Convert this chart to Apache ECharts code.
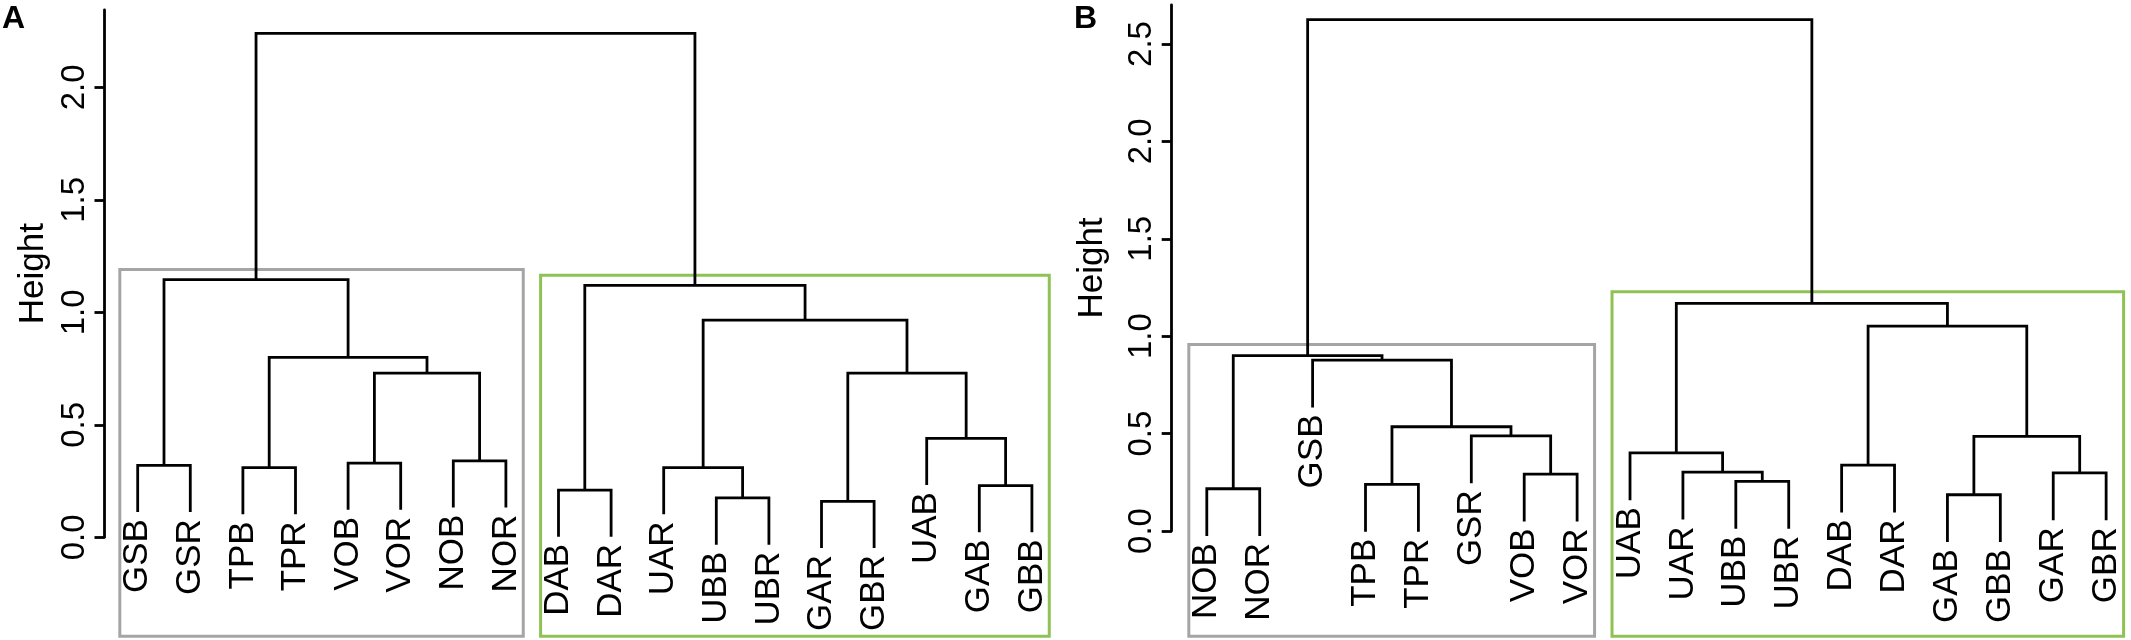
<!DOCTYPE html>
<html>
<head>
<meta charset="utf-8">
<title>Dendrograms A / B</title>
<script src="https://cdn.jsdelivr.net/npm/echarts@6/dist/echarts.min.js"></script>
<style>
  html, body { margin: 0; padding: 0; background: #fff; }
  #chart { width: 2131px; height: 640px; }
</style>
</head>
<body>
<div id="chart"></div>
<script>
// panel A: leaf order, merges (R style: negative = leaf, positive = earlier row), merge heights
const leavesA = ['GSB', 'GSR', 'TPB', 'TPR', 'VOB', 'VOR', 'NOB', 'NOR', 'DAB', 'DAR',
  'UAR', 'UBB', 'UBR', 'GAR', 'GBR', 'UAB', 'GAB', 'GBB'];
const mergeA = [[-1, -2], [-3, -4], [-5, -6], [-7, -8], [3, 4], [2, 5], [1, 6],
  [-9, -10], [-12, -13], [-11, 9], [-14, -15], [-17, -18], [-16, 12], [11, 13], [10, 14], [8, 15], [7, 16]];
const heightsA = [0.32, 0.31, 0.33, 0.34, 0.73, 0.80, 1.145,
  0.21, 0.175, 0.31, 0.16, 0.23, 0.44, 0.73, 0.965, 1.12, 2.24];
const clusterSizesA = [8, 10];
const boxTopsA = [1.19, 1.165];
const ticksA = [0, 0.5, 1, 1.5, 2];

// panel B
const leavesB = ['NOB', 'NOR', 'GSB', 'TPB', 'TPR', 'GSR', 'VOB', 'VOR', 'UAB', 'UAR',
  'UBB', 'UBR', 'DAB', 'DAR', 'GAB', 'GBB', 'GAR', 'GBR'];
const mergeB = [[-1, -2], [-4, -5], [-7, -8], [-6, 3], [2, 4], [-3, 5], [1, 6],
  [-11, -12], [-10, 8], [-9, 9], [-13, -14], [-15, -16], [-17, -18], [12, 13], [11, 14], [10, 15], [7, 16]];
const heightsB = [0.217, 0.239, 0.292, 0.488, 0.535, 0.877, 0.90,
  0.255, 0.302, 0.401, 0.338, 0.186, 0.298, 0.486, 1.052, 1.168, 2.625];
const clusterSizesB = [8, 10];
const boxTopsB = [0.957, 1.228];
const ticksB = [0, 0.5, 1, 1.5, 2, 2.5];

const boxColors = ['#a5a5a5', '#8ec255'];
const FONT = 'Liberation Sans, Arial, Helvetica, sans-serif';

// turn merge table into U-shaped links and leaf end points
function buildTree(leaves, merge, heights, hang) {
  const nodeX = [];
  const links = [];
  const leafEnds = [];
  merge.forEach((pair, i) => {
    const h = heights[i];
    const ends = pair.map(ref => {
      if (ref < 0) {
        const x = -ref;
        leafEnds[x - 1] = [x, h - hang];
        return [x, h - hang];
      }
      return [nodeX[ref - 1], heights[ref - 1]];
    });
    nodeX[i] = (ends[0][0] + ends[1][0]) / 2;
    // [xLeft, xRight, height, leftTop, rightTop]
    links.push([ends[0][0], ends[1][0], h, ends[0][1], ends[1][1]]);
  });
  return { links, leafEnds };
}

// rect.hclust style boxes around the clusters
function buildBoxes(sizes, tops, bottom) {
  let start = 0;
  return sizes.map((n, i) => {
    const box = [start + 0.66, start + n + 0.33, tops[i], bottom];
    start += n;
    return box;
  });
}

const treeA = buildTree(leavesA, mergeA, heightsA, 0.208);
const treeB = buildTree(leavesB, mergeB, heightsB, 0.243);
const boxesA = buildBoxes(clusterSizesA, boxTopsA, -0.44);
const boxesB = buildBoxes(clusterSizesB, boxTopsB, -0.54);

function renderLink(params, api) {
  const pts = [
    api.coord([api.value(0), api.value(3)]),
    api.coord([api.value(0), api.value(2)]),
    api.coord([api.value(1), api.value(2)]),
    api.coord([api.value(1), api.value(4)])
  ];
  return {
    type: 'polyline',
    shape: { points: pts },
    style: { stroke: '#000', lineWidth: 2.8, fill: null, lineJoin: 'miter', lineCap: 'butt' }
  };
}

function labelRenderer(leaves) {
  return function (params, api) {
    const p = api.coord([api.value(0), api.value(1)]);
    return {
      type: 'text',
      x: p[0],
      y: p[1] + 7,
      rotation: Math.PI / 2,
      style: {
        text: leaves[params.dataIndex],
        fontSize: 35,
        fontFamily: FONT,
        fill: '#000',
        align: 'right',
        verticalAlign: 'middle'
      }
    };
  };
}

function renderBox(params, api) {
  const tl = api.coord([api.value(0), api.value(2)]);
  const br = api.coord([api.value(1), api.value(3)]);
  return {
    type: 'rect',
    shape: { x: tl[0], y: tl[1], width: br[0] - tl[0], height: br[1] - tl[1] },
    style: { stroke: boxColors[params.dataIndex], lineWidth: 3, fill: null }
  };
}

function yAxisFor(gridIndex, max, ticks, nameGap) {
  return {
    gridIndex: gridIndex,
    type: 'value',
    min: 0,
    max: max,
    name: 'Height',
    nameLocation: 'middle',
    nameRotate: 90,
    nameGap: nameGap,
    nameTextStyle: { fontSize: 35, fontFamily: FONT, color: '#000' },
    axisLine: { show: true, lineStyle: { color: '#000', width: 2.8 } },
    axisTick: { show: true, length: 10, customValues: ticks, lineStyle: { color: '#000', width: 2.8 } },
    axisLabel: {
      customValues: ticks,
      rotate: 90,
      margin: 13,
      fontSize: 33,
      fontFamily: FONT,
      color: '#000',
      formatter: v => v.toFixed(1)
    },
    splitLine: { show: false }
  };
}

const chart = echarts.init(document.getElementById('chart'), null, { renderer: 'canvas' });

const option = {
  backgroundColor: '#fff',
  animation: false,
  grid: [
    { left: 104.5, top: 10, width: 1000, height: 527.3 },
    { left: 1171.7, top: 5, width: 959.3, height: 526 }
  ],
  xAxis: [
    { gridIndex: 0, type: 'value', min: 0.369, max: 19.38, show: false },
    { gridIndex: 1, type: 'value', min: 0.3365, max: 18.47, show: false }
  ],
  yAxis: [
    yAxisFor(0, 2.344, ticksA, 54),
    yAxisFor(1, 2.70, ticksB, 62)
  ],
  graphic: [
    { type: 'text', left: 2, top: 3, style: { text: 'A', fontSize: 32, fontWeight: 'bold', fontFamily: FONT, fill: '#000' } },
    { type: 'text', left: 1074, top: 3, style: { text: 'B', fontSize: 32, fontWeight: 'bold', fontFamily: FONT, fill: '#000' } }
  ],
  series: [
    { type: 'custom', name: 'boxesA', xAxisIndex: 0, yAxisIndex: 0, renderItem: renderBox, data: boxesA, silent: true },
    { type: 'custom', name: 'treeA', xAxisIndex: 0, yAxisIndex: 0, renderItem: renderLink, data: treeA.links, silent: true },
    { type: 'custom', name: 'labelsA', xAxisIndex: 0, yAxisIndex: 0, renderItem: labelRenderer(leavesA), data: treeA.leafEnds, silent: true },
    { type: 'custom', name: 'boxesB', xAxisIndex: 1, yAxisIndex: 1, renderItem: renderBox, data: boxesB, silent: true },
    { type: 'custom', name: 'treeB', xAxisIndex: 1, yAxisIndex: 1, renderItem: renderLink, data: treeB.links, silent: true },
    { type: 'custom', name: 'labelsB', xAxisIndex: 1, yAxisIndex: 1, renderItem: labelRenderer(leavesB), data: treeB.leafEnds, silent: true }
  ]
};

chart.setOption(option);
</script>
</body>
</html>
